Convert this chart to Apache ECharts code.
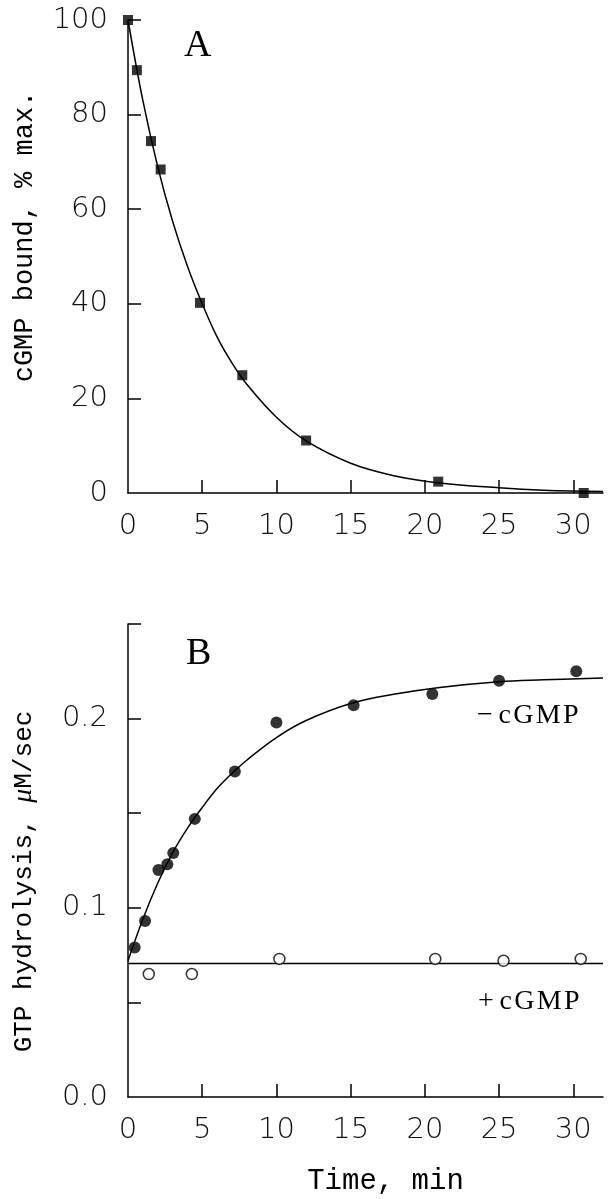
<!DOCTYPE html>
<html lang="en">
<head>
    <meta charset="UTF-8">
    <script src="https://cdn.jsdelivr.net/npm/echarts@6/dist/echarts.min.js"></script>
    <style>
        html, body { margin: 0; padding: 0; background: #fff; }
        #chart { width: 612px; height: 1199px; }
    </style>
</head>
<body>
    <div id="chart"></div>
    <script>
        // panel A: cGMP dissociation
        var timeA = [0, 0.6, 1.55, 2.2, 4.85, 7.7, 12.0, 20.9, 30.7];
        var boundA = [100, 89.4, 74.4, 68.4, 40.2, 24.9, 11.1, 2.4, 0];
        var fitTimeA = [0, 1, 2, 3, 4, 5, 6, 7, 8, 10, 12, 15, 18, 21, 25, 28, 32];
        var fitBoundA = [100, 83, 69, 57.5, 48, 40, 33, 27.5, 23, 16, 11, 6.3, 3.6, 2.1, 1.1, 0.6, 0.3];

        // panel B: GTP hydrolysis
        var timeMinus = [0.45, 1.15, 2.05, 2.65, 3.05, 4.5, 7.2, 10.0, 15.2, 20.5, 25.0, 30.2];
        var rateMinus = [0.079, 0.093, 0.120, 0.123, 0.129, 0.147, 0.172, 0.198, 0.207, 0.213, 0.220, 0.225];
        var fitTimeMinus = [0, 1, 2, 3, 4, 5, 6, 7, 8, 10, 12, 15, 18, 21, 25, 28, 32];
        var fitRateMinus = [0.072, 0.094, 0.113, 0.129, 0.142, 0.153, 0.163, 0.171, 0.178, 0.190, 0.199, 0.208, 0.213, 0.2165, 0.2195, 0.2205, 0.2215];
        var timePlus = [1.4, 4.3, 10.2, 20.7, 25.3, 30.5];
        var ratePlus = [0.065, 0.065, 0.073, 0.073, 0.072, 0.073];
        var fitTimePlus = [0, 32];
        var fitRatePlus = [0.0705, 0.0705];

        var xTicks = [0, 5, 10, 15, 20, 25, 30];

        function pairs(xs, ys) {
            return xs.map(function (x, i) { return [x, ys[i]] })
        }

        var tickFont = { fontFamily: 'DejaVu Sans', fontWeight: 200, fontSize: 29, color: '#111' };
        var titleFont = { fontFamily: 'Liberation Mono', fontSize: 27, color: '#000' };
        var lineStyle = { color: '#000', width: 1.5 };

        function xAxis(gridIndex, name) {
            return {
                type: 'value', gridIndex: gridIndex, min: 0, max: 32,
                axisLine: { onZero: false, lineStyle: lineStyle },
                axisTick: { inside: true, length: 13, lineStyle: lineStyle, customValues: xTicks.slice(1) },
                axisLabel: Object.assign({ margin: 19, customValues: xTicks }, tickFont),
                splitLine: { show: false },
                name: name, nameLocation: 'middle', nameGap: 70,
                nameTextStyle: Object.assign({ padding: [0, 0, 0, 40] }, titleFont, { fontSize: 29 })
            }
        }

        var chart = echarts.init(document.getElementById('chart'))
        chart.setOption({
            animation: false,
            grid: [
                { left: 128, top: 20, width: 475, height: 473 },
                { left: 128, top: 624, width: 475, height: 473 }
            ],
            xAxis: [xAxis(0, ''), xAxis(1, 'Time, min')],
            yAxis: [
                {
                    type: 'value', gridIndex: 0, min: 0, max: 100,
                    axisLine: { lineStyle: lineStyle },
                    axisTick: { inside: true, length: 13, lineStyle: lineStyle, customValues: [20, 40, 60, 80, 100] },
                    axisLabel: Object.assign({ margin: 20, customValues: [0, 20, 40, 60, 80, 100] }, tickFont),
                    splitLine: { show: false },
                    name: 'cGMP bound, % max.', nameLocation: 'middle', nameGap: 90,
                    nameTextStyle: Object.assign({ padding: [0, 0, 0, 40] }, titleFont)
                },
                {
                    type: 'value', gridIndex: 1, min: 0, max: 0.25,
                    axisLine: { lineStyle: lineStyle },
                    axisTick: { inside: true, length: 13, lineStyle: lineStyle, customValues: [0.05, 0.1, 0.15, 0.2, 0.25] },
                    axisLabel: Object.assign({
                        margin: 20, customValues: [0, 0.1, 0.2],
                        formatter: function (v) { return v.toFixed(1) }
                    }, tickFont),
                    splitLine: { show: false },
                    name: 'GTP hydrolysis, {mu|μ}M/sec', nameLocation: 'middle', nameGap: 90,
                    nameTextStyle: Object.assign({
                        padding: [0, 42, 0, 0],
                        rich: { mu: { fontFamily: 'Liberation Serif', fontStyle: 'italic', fontSize: 28 } }
                    }, titleFont, { fontSize: 26 })
                }
            ],
            series: [
                {
                    type: 'line', xAxisIndex: 0, yAxisIndex: 0, data: pairs(fitTimeA, fitBoundA),
                    smooth: 0.4, showSymbol: false, lineStyle: lineStyle, z: 2
                },
                {
                    type: 'scatter', xAxisIndex: 0, yAxisIndex: 0, data: pairs(timeA, boundA),
                    symbol: 'rect', symbolSize: 10, itemStyle: { color: '#000' }, clip: false, z: 3
                },
                {
                    type: 'line', xAxisIndex: 1, yAxisIndex: 1, data: pairs(fitTimeMinus, fitRateMinus),
                    smooth: 0.4, showSymbol: false, lineStyle: lineStyle, z: 2
                },
                {
                    type: 'line', xAxisIndex: 1, yAxisIndex: 1, data: pairs(fitTimePlus, fitRatePlus),
                    showSymbol: false, lineStyle: lineStyle, z: 2
                },
                {
                    type: 'scatter', xAxisIndex: 1, yAxisIndex: 1, data: pairs(timeMinus, rateMinus),
                    symbol: 'circle', symbolSize: 12, itemStyle: { color: '#000' }, clip: false, z: 3
                },
                {
                    type: 'scatter', xAxisIndex: 1, yAxisIndex: 1, data: pairs(timePlus, ratePlus),
                    symbol: 'circle', symbolSize: 11,
                    itemStyle: { color: '#fff', borderColor: '#000', borderWidth: 1.5 }, clip: false, z: 3
                }
            ],
            graphic: [
                { type: 'text', left: 184, top: 27, style: { text: 'A', font: '38px "Liberation Serif"', fill: '#000' } },
                { type: 'text', left: 186, top: 635, style: { text: 'B', font: '38px "Liberation Serif"', fill: '#000' } },
                { type: 'text', left: 477, top: 702, style: { text: '\u2212\u2009c\u200aG\u200aM\u200aP', font: '28px "Liberation Serif"', fill: '#000' } },
                { type: 'text', left: 478, top: 988, style: { text: '+\u2009c\u200aG\u200aM\u200aP', font: '28px "Liberation Serif"', fill: '#000' } }
            ]
        })
    </script>
</body>
</html>
